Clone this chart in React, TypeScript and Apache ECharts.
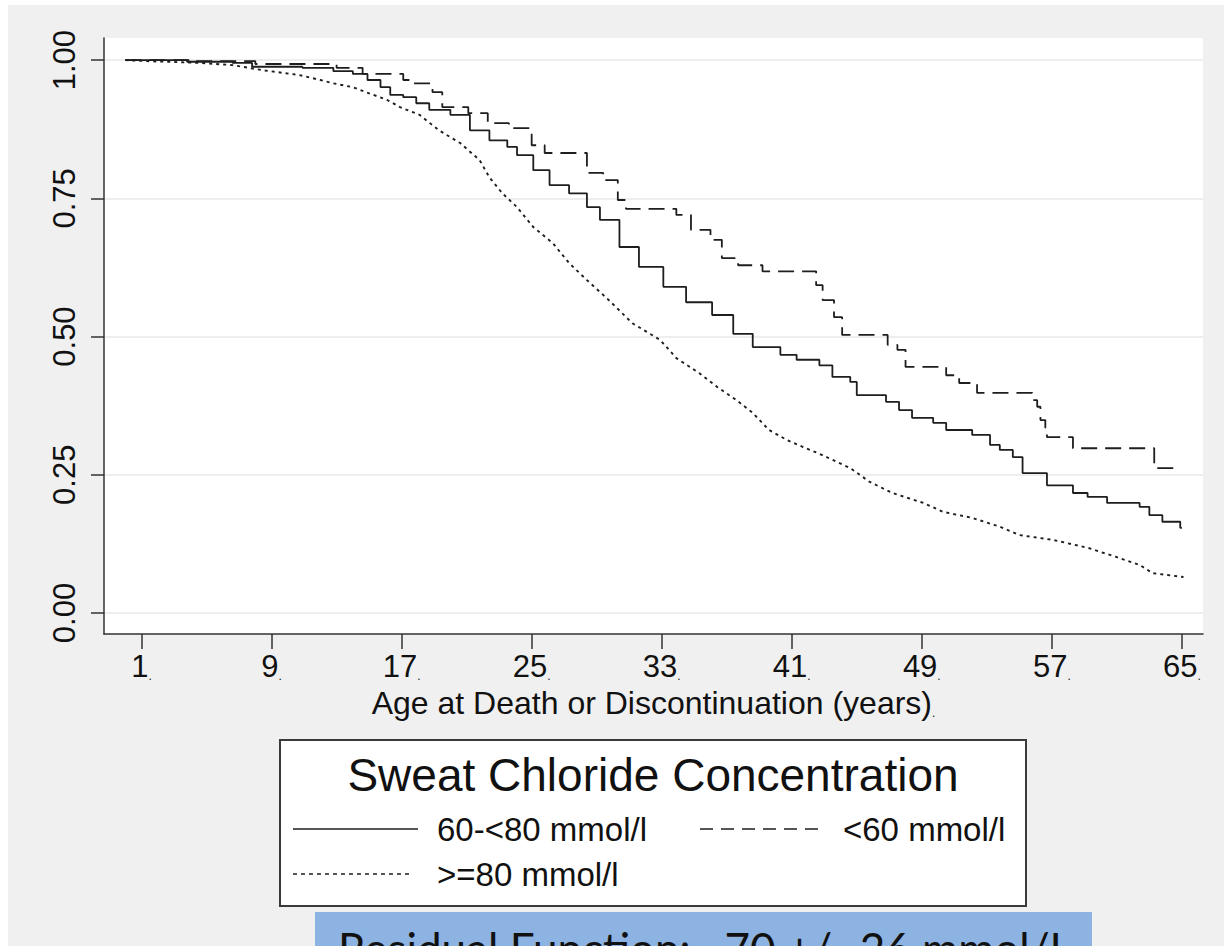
import React, { useEffect, useRef } from "react";
import * as echarts from "echarts";

// ---- data (age in years, survival probability) ----
const xTicks = [1, 9, 17, 25, 33, 41, 49, 57, 65];
const yTicks = [0, 0.25, 0.5, 0.75, 1];

const mid60to80: [number, number][] = [
  [0, 1], [3.8, 0.997], [6.6, 0.995], [7.8, 0.988], [10.9, 0.986], [12.8, 0.98], [14, 0.975],
  [14.9, 0.964], [15.7, 0.951], [16.3, 0.937], [17.1, 0.933], [17.9, 0.922], [18.7, 0.91],
  [20, 0.901], [21.2, 0.873], [22.4, 0.855], [23.5, 0.843], [24.1, 0.828], [25.1, 0.801],
  [26.1, 0.774], [27.3, 0.759], [28.4, 0.734], [29.2, 0.711], [30.4, 0.662], [31.6, 0.626],
  [33.1, 0.59], [34.5, 0.562], [36.1, 0.539], [37.4, 0.505], [38.6, 0.481], [40.3, 0.467],
  [41.3, 0.458], [42.7, 0.448], [43.5, 0.427], [44.6, 0.418], [45, 0.394], [46.8, 0.382],
  [47.6, 0.367], [48.4, 0.353], [49.7, 0.344], [50.5, 0.331], [52.1, 0.322], [53.2, 0.304],
  [53.8, 0.295], [54.6, 0.282], [55.2, 0.253], [56.7, 0.231], [58.3, 0.217], [59.2, 0.21],
  [60.4, 0.199], [62.4, 0.192], [63, 0.177], [63.8, 0.165], [64.9, 0.154], [65, 0.154],
];

const below60: [number, number][] = [
  [0, 1], [4, 0.998], [8, 0.993], [13, 0.986], [14.6, 0.975], [17.1, 0.964], [17.7, 0.958],
  [18.9, 0.942], [19.5, 0.915], [21.1, 0.904], [22.3, 0.886], [23.6, 0.877], [25, 0.846],
  [25.8, 0.832], [28.4, 0.796], [29.4, 0.783], [30.3, 0.747], [30.8, 0.731], [33.9, 0.72],
  [34.8, 0.693], [36, 0.675], [36.7, 0.642], [37.7, 0.629], [39.2, 0.618], [42.5, 0.593],
  [42.9, 0.566], [43.6, 0.535], [44.1, 0.503], [46.9, 0.485], [47.5, 0.476], [48, 0.445],
  [50.5, 0.43], [51.3, 0.416], [52.4, 0.398], [55.8, 0.385], [56.1, 0.373], [56.3, 0.349],
  [56.6, 0.335], [56.7, 0.318], [58.3, 0.298], [63.3, 0.262], [64.9, 0.262],
];

const above80: [number, number][] = [
  [0, 1], [1.5, 0.998], [4.6, 0.995], [6.6, 0.991], [8.4, 0.982], [10.7, 0.973], [12, 0.964],
  [12.8, 0.958], [14, 0.951], [15, 0.94], [16.1, 0.928], [16.9, 0.915], [18.1, 0.901],
  [19.3, 0.873], [20.6, 0.85], [21.8, 0.819], [22.4, 0.788], [23.2, 0.759], [24.1, 0.734],
  [25.1, 0.698], [26.3, 0.669], [27.3, 0.633], [28.4, 0.602], [29.6, 0.57], [31.2, 0.524],
  [32.9, 0.494], [33.9, 0.461], [35.3, 0.434], [36.4, 0.409], [37.6, 0.385], [38.6, 0.362],
  [39.6, 0.331], [40.7, 0.313], [41.7, 0.3], [42.7, 0.288], [44.6, 0.262], [45.8, 0.237],
  [47.2, 0.217], [49.1, 0.199], [50.3, 0.183], [52.1, 0.172], [53.8, 0.156], [55, 0.141],
  [57.1, 0.132], [59.2, 0.118], [61, 0.101], [62.4, 0.087], [63.2, 0.072], [65.1, 0.065],
];

const seriesNames = ["60-<80 mmol/l", "<60 mmol/l", ">=80 mmol/l"];
const legendTitle = "Sweat Chloride Concentration";
const xTitle = "Age at Death or Discontinuation (years)";
const noteText = "Residual Function:\u00A0\u00A0 70 +/- 26 mmol/L";

const FONT = "'Liberation Sans', Arial, Helvetica, sans-serif";
const INK = "#111";
const LINE = "#1e1e1e";

export default function App() {
  const ref = useRef<HTMLDivElement>(null);

  useEffect(() => {
    if (!ref.current) return;
    const chart = echarts.init(ref.current, undefined, { renderer: "svg" });

    const legendItems = [
      { name: seriesNames[0], x1: 293, x2: 418, y: 829, tx: 437, dash: null as number[] | null },
      { name: seriesNames[1], x1: 700, x2: 823, y: 829, tx: 843, dash: [13, 8] },
      { name: seriesNames[2], x1: 293, x2: 413, y: 874, tx: 437, dash: [4, 4] },
    ];

    const graphics: any[] = [
      {
        type: "rect",
        z: 10,
        shape: { x: 280, y: 740, width: 746, height: 166 },
        style: { fill: "#fff", stroke: "#3a3a3a", lineWidth: 2 },
      },
      {
        type: "text",
        z: 11,
        style: {
          text: legendTitle,
          x: 653,
          y: 775,
          align: "center",
          verticalAlign: "middle",
          fontSize: 46,
          fontFamily: FONT,
          fill: INK,
        },
      },
      {
        type: "rect",
        z: 10,
        shape: { x: 315, y: 912, width: 777, height: 60 },
        style: { fill: "#8db3e2" },
      },
      {
        type: "text",
        z: 11,
        style: {
          text: noteText,
          x: 338,
          y: 948,
          align: "left",
          verticalAlign: "middle",
          fontSize: 44,
          fontFamily: "Lato, 'Open Sans', sans-serif",
          fill: "#111",
        },
      },
    ];
    legendItems.forEach((it) => {
      graphics.push({
        type: "line",
        z: 11,
        shape: { x1: it.x1, y1: it.y, x2: it.x2, y2: it.y },
        style: { stroke: LINE, lineWidth: 1.6, lineDash: it.dash || undefined },
      });
      graphics.push({
        type: "text",
        z: 11,
        style: {
          text: it.name,
          x: it.tx,
          y: it.y + 0.5,
          align: "left",
          verticalAlign: "middle",
          fontSize: 33,
          fontFamily: FONT,
          fill: INK,
        },
      });
    });

    const option: any = {
      animation: false,
      backgroundColor: "transparent",
      grid: {
        left: 104,
        right: 21,
        top: 38,
        bottom: 312,
        show: true,
        backgroundColor: "#fff",
        borderWidth: 0,
        containLabel: false,
      },
      xAxis: {
        type: "value",
        min: -1.31,
        max: 66.3,
        name: `{n|${xTitle}}{d|.}`,
        nameLocation: "middle",
        nameGap: 52,
        nameTextStyle: {
          rich: {
            n: { fontSize: 32, fontFamily: FONT, color: INK },
            d: { fontSize: 12, fontFamily: FONT, color: INK, verticalAlign: "bottom" },
          },
        },
        axisLine: { show: true, onZero: false, lineStyle: { color: "#333", width: 1.5 } },
        axisTick: { show: true, customValues: xTicks, length: 15, lineStyle: { color: "#333", width: 1.5 } },
        axisLabel: {
          customValues: xTicks,
          margin: 17,
          formatter: (v: number) => `{n|${v}}{d|.}`,
          rich: {
            n: { fontSize: 31, fontFamily: FONT, color: INK },
            d: { fontSize: 12, fontFamily: FONT, color: INK, verticalAlign: "bottom" },
          },
        },
        splitLine: { show: false },
      },
      yAxis: {
        type: "value",
        min: -0.038,
        max: 1.04,
        axisLine: { show: true, onZero: false, lineStyle: { color: "#333", width: 1.5 } },
        axisTick: { show: true, customValues: yTicks, length: 13, lineStyle: { color: "#333", width: 1.5 } },
        axisLabel: {
          customValues: yTicks,
          rotate: 90,
          margin: 24,
          fontSize: 31,
          fontFamily: FONT,
          color: INK,
          formatter: (v: number) => v.toFixed(2),
        },
        splitLine: { show: true, lineStyle: { color: "#e8e8e8", width: 1.5 } },
      },
      series: [
        {
          name: seriesNames[0],
          type: "line",
          step: "end",
          showSymbol: false,
          data: mid60to80,
          lineStyle: { color: LINE, width: 1.8, type: "solid" },
          z: 3,
        },
        {
          name: seriesNames[1],
          type: "line",
          step: "end",
          showSymbol: false,
          data: below60,
          lineStyle: { color: LINE, width: 1.8, type: [16, 8] },
          z: 3,
        },
        {
          name: seriesNames[2],
          type: "line",
          showSymbol: false,
          data: above80,
          lineStyle: { color: LINE, width: 1.9, type: [3, 4] },
          z: 3,
        },
      ],
      graphic: graphics,
    };

    chart.setOption(option);
    return () => chart.dispose();
  }, []);

  return (
    <div style={{ position: "fixed", left: 0, top: 0, width: 1224, height: 946, background: "#fff", overflow: "hidden" }}>
      <div style={{ position: "absolute", left: 8, top: 5, width: 1216, height: 941, background: "#f0f0f0" }} />
      <div ref={ref} style={{ position: "absolute", left: 0, top: 0, width: 1224, height: 946 }} />
    </div>
  );
}
